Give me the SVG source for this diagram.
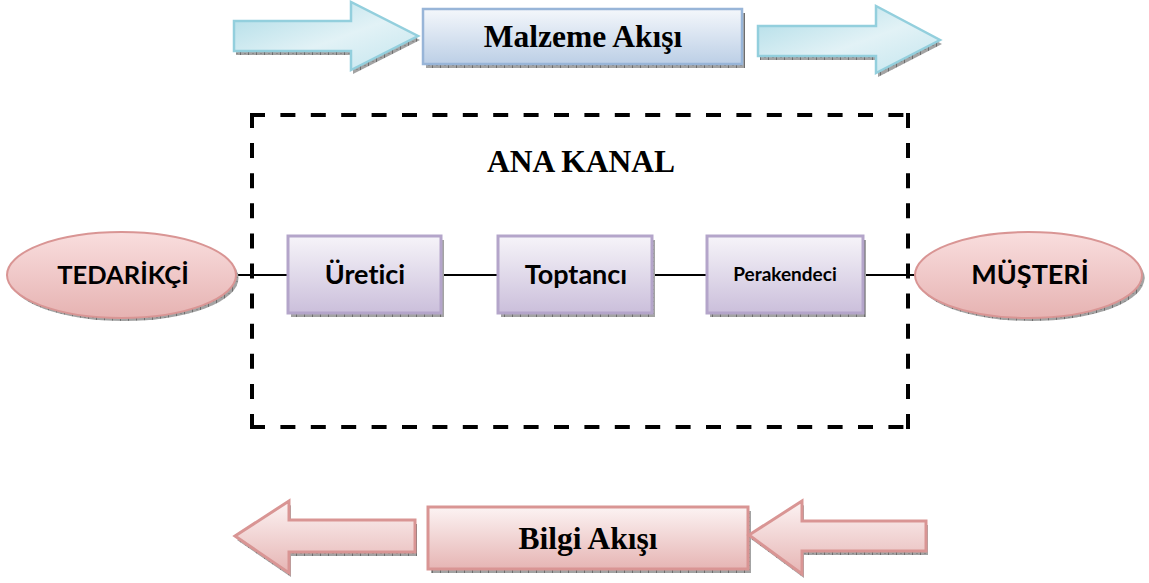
<svg xmlns="http://www.w3.org/2000/svg" width="1149" height="583" viewBox="0 0 1149 583">
  <defs>
    <!-- grainy drop-shadow texture -->
    <pattern id="grain" width="8" height="4" patternUnits="userSpaceOnUse">
      <rect width="8" height="4" fill="#a3a3a3"/>
      <rect x="0" y="0" width="1" height="4" fill="#6e6e6e"/>
      <rect x="4" y="1" width="2" height="1" fill="#8a8a8a"/>
    </pattern>
    <linearGradient id="gBlueArrow" x1="0" y1="0" x2="1" y2="1">
      <stop offset="0" stop-color="#acdbe6"/>
      <stop offset="0.55" stop-color="#e2f2f6"/>
      <stop offset="1" stop-color="#c3e5ee"/>
    </linearGradient>
    <linearGradient id="gBlueBox" x1="0" y1="0" x2="0" y2="1">
      <stop offset="0" stop-color="#f4f7fb"/>
      <stop offset="1" stop-color="#bccfe6"/>
    </linearGradient>
    <linearGradient id="gPurple" x1="0" y1="0" x2="0" y2="1">
      <stop offset="0" stop-color="#f6f4f9"/>
      <stop offset="1" stop-color="#cbbfdb"/>
    </linearGradient>
    <linearGradient id="gPink" x1="0" y1="0" x2="0" y2="1">
      <stop offset="0" stop-color="#fcf3f3"/>
      <stop offset="1" stop-color="#e6b5b4"/>
    </linearGradient>
    <linearGradient id="gPinkEllipse" x1="0" y1="0" x2="0" y2="1">
      <stop offset="0" stop-color="#f9dede"/>
      <stop offset="1" stop-color="#e6b3b2"/>
    </linearGradient>
  </defs>
  <style>
    .shadow { fill: url(#grain); }
    .blue-arrow { fill: url(#gBlueArrow); stroke: #93cfdd; stroke-width: 2.5; stroke-linejoin: miter; }
    .blue-box { fill: url(#gBlueBox); stroke: #98b5d8; stroke-width: 2.5; }
    .pink-shape { fill: url(#gPink); stroke: #d99594; stroke-width: 3; }
    .party { fill: url(#gPinkEllipse); stroke: #d99594; stroke-width: 2; }
    .stage { fill: url(#gPurple); stroke: #b4a5ca; stroke-width: 3; }
    .serif { font-family: "Liberation Serif", "Times New Roman", serif; font-weight: bold; font-size: 31.5px; fill: #000; text-anchor: middle; }
    .sans { font-family: Lato, "Liberation Sans", sans-serif; font-weight: bold; fill: #000; text-anchor: middle; font-variant-ligatures: none; }
    .frame { stroke: #000; stroke-width: 4; fill: none; }
    .link { stroke: #000; stroke-width: 2; }
  </style>

  <!-- material flow banner -->
  <g id="material-flow">
    <path class="shadow" d="M236,25 H353 V6 L420,40 L353,74 V55 H236 Z"/>
    <path class="blue-arrow" d="M234,21 H351 V2 L418,36 L351,70 V51 H234 Z"/>
    <rect class="shadow" x="426" y="13" width="319" height="55"/>
    <rect class="blue-box" x="423" y="9" width="319" height="55"/>
    <text class="serif" x="583" y="47">Malzeme Akışı</text>
    <path class="shadow" d="M760,30 H878 V10 L942,44 L878,77 V60 H760 Z"/>
    <path class="blue-arrow" d="M758,26 H876 V6 L940,40 L876,73 V56 H758 Z"/>
  </g>

  <!-- main channel frame -->
  <g id="main-channel">
    <line class="frame" x1="250" y1="115" x2="910" y2="115" stroke-dasharray="15 15.4"/>
    <line class="frame" x1="250" y1="427" x2="910" y2="427" stroke-dasharray="15 15.4"/>
    <line class="frame" x1="252" y1="113" x2="252" y2="429" stroke-dasharray="15 15.1"/>
    <line class="frame" x1="908" y1="113" x2="908" y2="429" stroke-dasharray="15 15.1"/>
    <text class="serif" x="581" y="172">ANA KANAL</text>
  </g>

  <!-- connectors -->
  <g id="connectors">
    <line class="link" x1="236" y1="275" x2="288" y2="275"/>
    <line class="link" x1="441" y1="275" x2="498" y2="275"/>
    <line class="link" x1="652" y1="275" x2="707" y2="275"/>
    <line class="link" x1="863" y1="275" x2="915" y2="275"/>
  </g>

  <g id="supplier">
    <ellipse class="shadow" cx="124" cy="278" rx="114.5" ry="43"/>
    <ellipse class="party" cx="121.5" cy="275" rx="114.5" ry="43"/>
    <text class="sans" x="123" y="284" font-size="25.5">TEDARİKÇİ</text>
  </g>

  <g id="producer">
    <rect class="shadow" x="291" y="240" width="153" height="77"/>
    <rect class="stage" x="288" y="236" width="153" height="77"/>
    <text class="sans" x="365" y="284" font-size="27">Üretici</text>
  </g>

  <g id="wholesaler">
    <rect class="shadow" x="501" y="240" width="154" height="77"/>
    <rect class="stage" x="498" y="236" width="154" height="77"/>
    <text class="sans" x="576" y="284" font-size="27">Toptancı</text>
  </g>

  <g id="retailer">
    <rect class="shadow" x="710" y="240" width="156" height="77"/>
    <rect class="stage" x="707" y="236" width="156" height="77"/>
    <text class="sans" x="785" y="281" font-size="19">Perakendeci</text>
  </g>

  <g id="customer">
    <ellipse class="shadow" cx="1031" cy="278" rx="113.5" ry="43"/>
    <ellipse class="party" cx="1028.5" cy="275" rx="113.5" ry="43"/>
    <text class="sans" x="1030" y="284" font-size="27">MÜŞTERİ</text>
  </g>

  <!-- information flow banner -->
  <g id="information-flow">
    <path class="shadow" d="M417,524 H291 V505 L237,540 L291,577 V556 H417 Z"/>
    <path class="pink-shape" d="M415,520 H289 V501 L235,536 L289,573 V552 H415 Z"/>
    <rect class="shadow" x="431" y="511" width="320" height="62"/>
    <rect class="pink-shape" x="428" y="507" width="320" height="62"/>
    <text class="serif" x="588" y="549">Bilgi Akışı</text>
    <path class="shadow" d="M928,525 H804 V505 L751,539 L804,578 V555 H928 Z"/>
    <path class="pink-shape" d="M926,521 H802 V501 L749,535 L802,574 V551 H926 Z"/>
  </g>
</svg>
